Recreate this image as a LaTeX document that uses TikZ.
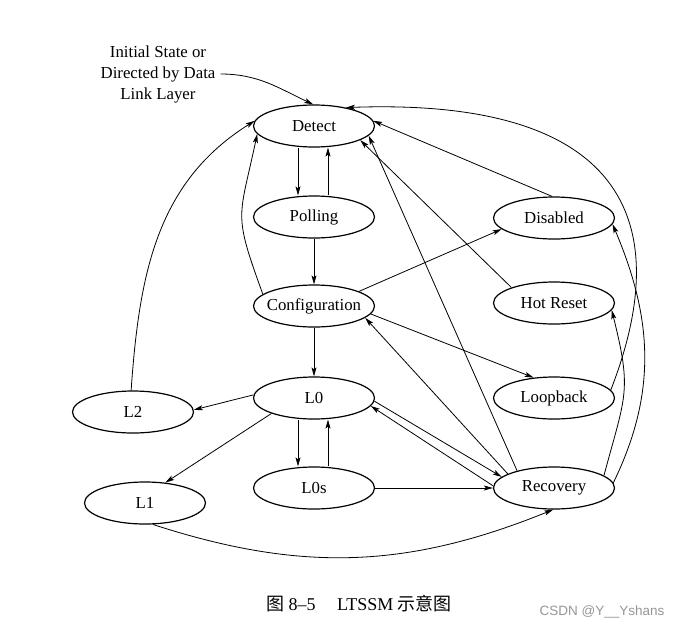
\documentclass[tikz,border=0pt]{standalone}
\usepackage{fontspec}
\setmainfont{Liberation Serif}
\setsansfont{Liberation Sans}
\newfontfamily\cjkfont{Noto Sans CJK SC}
\usepackage{tikz}
\usetikzlibrary{arrows.meta}
\usetikzlibrary{shapes.geometric}
\definecolor{markgray}{RGB}{150,150,150}
\tikzset{
    tnode/.style = {align=center, inner sep=0pt, text centered},
    state_node/.style = {tnode, ellipse, draw=black, line width=1.2pt, minimum width=121pt, minimum height=42pt},
    note_text/.style = {tnode, inner sep=5pt},
    trans/.style = {->, line width=0.8pt}
}

\begin{document}
\begin{tikzpicture}
            [x=1pt, y=1pt, >={Stealth[length=9pt, width=5pt, inset=2pt]},
            font=\fontsize{16.8}{21}\selectfont]
            \useasboundingbox (0,0) rectangle (681,-630);

            \node [state_node] (detect)   at (314,-126) {Detect};
            \node [state_node] (polling)  at (314,-217) {Polling};
            \node [state_node, inner xsep=-4.5pt] (config) at (314,-306) {Configuration};
            \node [state_node] (lzero)    at (314,-398) {L0};
            \node [state_node] (lzeros)   at (314,-488) {L0s};
            \node [state_node] (ltwo)     at (133,-412) {L2};
            \node [state_node] (lone)     at (145,-503) {L1};
            \node [state_node] (disabled) at (554,-218) {Disabled};
            \node [state_node] (hotreset) at (554,-303) {Hot Reset};
            \node [state_node] (loopback) at (554,-398) {Loopback};
            \node [state_node] (recovery) at (554,-488) {Recovery};
            \node [note_text]  (note)     at (158,-74) {Initial State or\\Directed by Data\\Link Layer};

            \draw [trans] (note.east) to [out=0, in=155] (detect.92);
            \draw [trans] ([xshift=-16pt]detect.south) -- ([xshift=-16pt]polling.north);
            \draw [trans] ([xshift=14pt]polling.north) -- ([xshift=14pt]detect.south);
            \draw [trans] (polling.south) -- (config.north);
            \draw [trans] (config.167) to [out=110, in=258, looseness=1.4] (detect.188);
            \draw [trans] (config.south) -- (lzero.north);
            \draw [trans] (config.18) -- (disabled.192);
            \draw [trans] (config.-8) -- (loopback.135);
            \draw [trans] (hotreset.160) -- (detect.-17);
            \draw [trans] (disabled.95) -- (detect.5);
            \draw [trans] (recovery.155) -- (detect.-10);
            \draw [trans] (recovery.163) -- (config.-13);
            \draw [trans] (lzero.-3) -- (recovery.168);
            \draw [trans] (recovery.178) -- (lzero.-8);
            \draw [trans] (lzeros.east) -- (recovery.west);
            \draw [trans] (lone.-70) to [out=-18, in=202] (recovery.-92);
            \draw [trans] (lzero.177) -- (ltwo.2);
            \draw [trans] (lzero.200) -- (lone.45);
            \draw [trans] ([xshift=-16pt]lzero.south) -- ([xshift=-16pt]lzeros.north);
            \draw [trans] ([xshift=14pt]lzeros.north) -- ([xshift=14pt]lzero.south);
            \draw [trans] (ltwo.95) to [out=86, in=212] (detect.175);
            \draw [trans] (loopback.8) .. controls +(67,172) and +(275,10) .. (detect.30);
            \draw [trans] (recovery.5) to [out=64, in=-67] (disabled.-6);
            \draw [trans] (recovery.14) to [out=75, in=-76, looseness=1.3] (hotreset.-7);

            \node [tnode, font=\fontsize{18}{20}\selectfont] (caption) at (359,-604)
                {{\cjkfont 图} 8–5\hspace{1.2em}LTSSM {\cjkfont 示意图}};
            \node [tnode, markgray, font=\sffamily\fontsize{13.5}{15}\selectfont] (mark) at (602,-612)
                {CSDN @Y\_\_Yshans};
\end{tikzpicture}
\end{document}
